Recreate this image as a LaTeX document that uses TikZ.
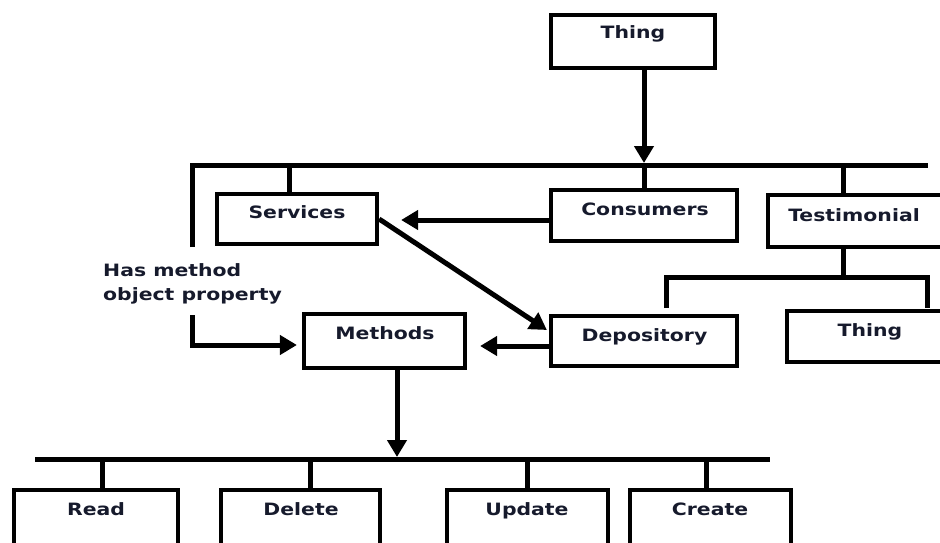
\documentclass[tikz,border=0pt]{standalone}
\usepackage{fontspec}
\newfontfamily\lblfont{DejaVu Sans Bold}[FakeStretch=1.2]
\usetikzlibrary{arrows.meta}
\definecolor{ink}{RGB}{22,26,44}
\begin{document}
\begin{tikzpicture}[x=1pt,y=-1pt,
  boxst/.style={draw=black, line width=4.2pt, fill=white, rectangle, inner sep=0pt},
  wire/.style={draw=black, line width=5pt},
  arr/.style={wire, -{Triangle[length=17pt,width=19pt]}},
  lbl/.style={font=\lblfont\fontsize{17}{20}\selectfont, text=ink, anchor=base, inner sep=0pt}]
\useasboundingbox (0,0) rectangle (940,543);
\clip (0,0) rectangle (940,543);

% anchor points for bars and free line ends
\coordinate (barL) at (192,165);
\coordinate (barR) at (928,165);
\coordinate (leftA) at (192,247);
\coordinate (leftB) at (192,315);
\coordinate (leftC) at (192,345);
\coordinate (stubS) at (289,165);
\coordinate (stubT) at (843,165);
\coordinate (csY) at (0,220);
\coordinate (subL) at (666,277);
\coordinate (subR) at (927,277);
\coordinate (subLd) at (666,308);
\coordinate (subRd) at (927,308);
\coordinate (botL) at (35,459);
\coordinate (botR) at (770,459);
\coordinate (mArr) at (397,0);

% boxes
\node[boxst, minimum width=164pt, minimum height=53pt] (thing) at (633,41.5) {};
\node[boxst, minimum width=160pt, minimum height=50pt] (serv) at (297,219) {};
\node[boxst, minimum width=186pt, minimum height=51pt] (cons) at (644,215.5) {};
\node[boxst, minimum width=212pt, minimum height=52pt] (test) at (874,221) {};
\node[boxst, minimum width=161pt, minimum height=54pt] (meth) at (384.5,341) {};
\node[boxst, minimum width=186pt, minimum height=50pt] (depo) at (644,341) {};
\node[boxst, minimum width=193pt, minimum height=51pt] (thingb) at (883.5,336.5) {};
\node[boxst, minimum width=164pt, minimum height=110pt] (read) at (96,545) {};
\node[boxst, minimum width=159pt, minimum height=110pt] (del) at (300.5,545) {};
\node[boxst, minimum width=161pt, minimum height=110pt] (upd) at (527.5,545) {};
\node[boxst, minimum width=161pt, minimum height=110pt] (cre) at (710.5,545) {};

% box labels
\node[lbl] (thing-t) at (633,39) {Thing};
\node[lbl] (serv-t) at (297,218) {Services};
\node[lbl] (cons-t) at (645,215) {Consumers};
\node[lbl] (test-t) at (854,221) {Testimonial};
\node[lbl] (meth-t) at (385,339) {Methods};
\node[lbl] (depo-t) at (644.5,341) {Depository};
\node[lbl] (thingb-t) at (870,336) {Thing};
\node[lbl] (read-t) at (96,515) {Read};
\node[lbl] (del-t) at (301,515) {Delete};
\node[lbl] (upd-t) at (527,515) {Update};
\node[lbl] (cre-t) at (710,515) {Create};

% property label on the left branch
\node[lbl, anchor=base west] (hasm) at (103,276) {Has method};
\node[lbl, anchor=base west] (objp) at (103,300) {object property};

% top hierarchy
\draw[arr, shorten >=2pt] (thing.south -| cons.north) -- (cons.north |- barL);
\draw[wire, line join=miter] (leftA) -- (barL) -- (barR);
\draw[wire] (stubS) -- (stubS |- serv.north);
\draw[wire] (cons.north |- barL) -- (cons.north);
\draw[wire] (stubT) -- (stubT |- test.north);

% left branch into Methods
\draw[arr, line join=miter, shorten >=5pt] (leftB) -- (leftC) -- (leftC -| meth.west);

% relations between classes
\draw[arr, shorten >=22pt] (cons.west |- csY) -- (serv.east |- csY);
\draw[arr] (serv.east) -- ([xshift=-2pt,yshift=11pt]depo.west);
\draw[arr, shorten >=13pt] ([yshift=-5pt]depo.west) -- ([yshift=-5pt]meth.east);

% Testimonial subtree
\draw[wire] (stubT |- test.south) -- (stubT |- subL);
\draw[wire, line join=miter] (subLd) -- (subL) -- (subR) -- (subRd);

% Methods subtree
\draw[arr, shorten >=2pt] (meth.south -| mArr) -- (mArr |- botL);
\draw[wire] (botL) -- (botR);
\draw[wire] ([xshift=6pt]read.north) -- ([xshift=6pt]read.north |- botL);
\draw[wire] ([xshift=9.5pt]del.north) -- ([xshift=9.5pt]del.north |- botL);
\draw[wire] (upd.north) -- (upd.north |- botL);
\draw[wire] ([xshift=-4.5pt]cre.north) -- ([xshift=-4.5pt]cre.north |- botL);
\end{tikzpicture}
\end{document}
